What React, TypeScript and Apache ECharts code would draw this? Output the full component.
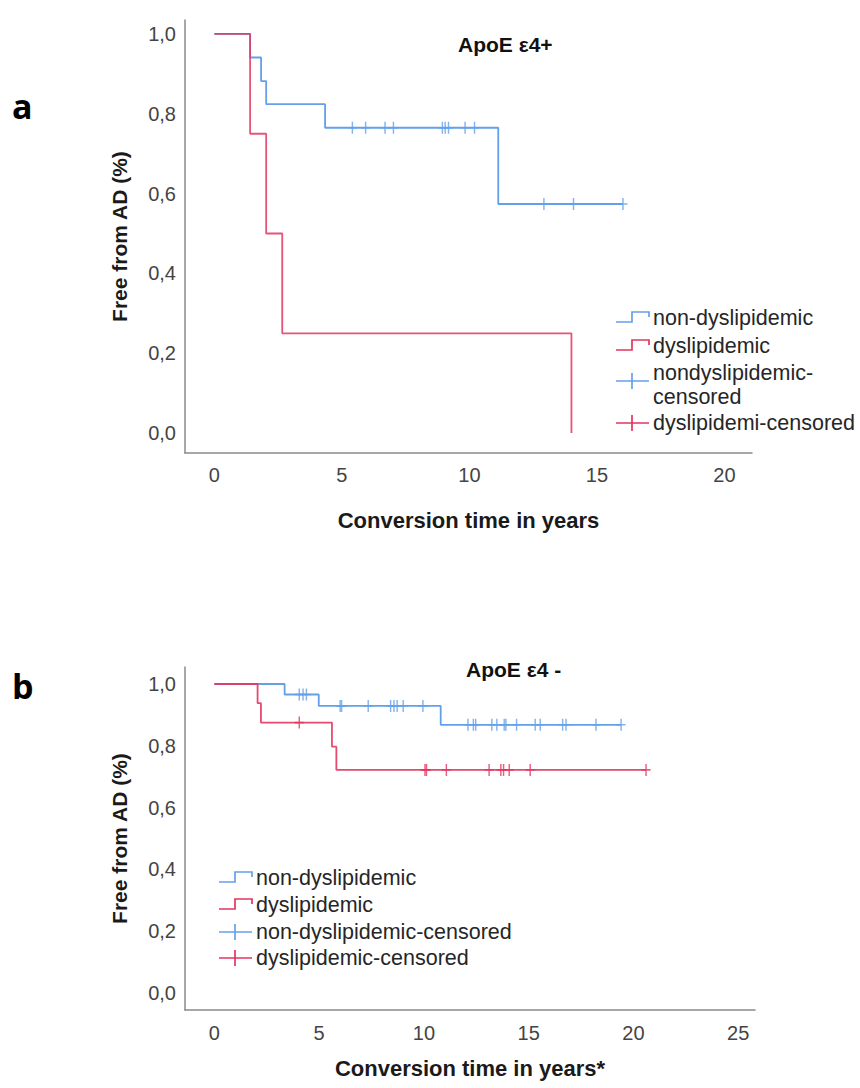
import React, { useEffect, useRef } from "react";
import * as echarts from "echarts";

// ---------- data ----------
const xTicksA = [0, 5, 10, 15, 20];
const xTicksB = [0, 5, 10, 15, 20, 25];
const yTicks = [0, 0.2, 0.4, 0.6, 0.8, 1.0];

// Panel a: ApoE e4+
const aNonTimes = [0, 1.4, 1.83, 2.03, 4.34, 11.13];
const aNonSurv = [1, 0.941, 0.882, 0.824, 0.765, 0.574];
const aNonEnd = 16.02;
const aNonCensored = [5.41, 5.93, 6.69, 7.02, 8.94, 9.05, 9.18, 9.83, 10.2, 12.92, 14.08, 16.02];

const aDysTimes = [0, 1.4, 2.03, 2.66, 14.0];
const aDysSurv = [1, 0.75, 0.5, 0.25, 0];
const aDysEnd = 14.0;
const aDysCensored: number[] = [];

// Panel b: ApoE e4 -
const bNonTimes = [0, 3.35, 4.98, 10.8];
const bNonSurv = [1, 0.966, 0.929, 0.868];
const bNonEnd = 19.41;
const bNonCensored = [
  4.05, 4.23, 4.39, 6.0, 6.07, 7.34, 8.41, 8.57, 8.72, 9.01, 9.95,
  12.1, 12.36, 12.47, 13.24, 13.48, 13.83, 13.91, 14.42, 15.31, 15.55,
  16.62, 16.78, 18.21, 19.41,
];

const bDysTimes = [0, 2.06, 2.22, 5.61, 5.82];
const bDysSurv = [1, 0.938, 0.875, 0.797, 0.722];
const bDysEnd = 20.6;
const bDysCensored = [4.05, 10.05, 10.12, 11.07, 13.11, 13.67, 13.8, 14.07, 15.07, 20.6];

const titleA = "ApoE \u03b54+";
const titleB = "ApoE \u03b54 -";
const xNameA = "Conversion time in years";
const xNameB = "Conversion time in years*";
const yName = "Free from AD (%)";
const legendA = ["non-dyslipidemic", "dyslipidemic", "nondyslipidemic-", "censored", "dyslipidemi-censored"];
const legendB = ["non-dyslipidemic", "dyslipidemic", "non-dyslipidemic-censored", "dyslipidemic-censored"];

// ---------- helpers ----------
function stepData(times: number[], surv: number[], end: number) {
  const pts = times.map((t, i) => [t, surv[i]]);
  if (end > times[times.length - 1]) pts.push([end, surv[surv.length - 1]]);
  return pts;
}
function survAt(times: number[], surv: number[], t: number) {
  let v = surv[0];
  for (let i = 0; i < times.length; i++) if (times[i] <= t) v = surv[i];
  return v;
}
function censorData(times: number[], surv: number[], cens: number[]) {
  return cens.map((t) => [t, survAt(times, surv, t)]);
}

const BLUE = "#64a0ea";
const RED = "#e2365f";
const FONT = "'Liberation Sans', Arial, sans-serif";
const CROSS = "path://M4.2,0 H5.8 V5.2 H10 V6.8 H5.8 V12 H4.2 V6.8 H0 V5.2 H4.2 Z";

function xAxisCfg(grid: number, min: number, max: number, ticks: number[], name: string, gap: number, margin: number) {
  return {
    type: "value", gridIndex: grid, min, max,
    axisLine: { show: true, onZero: false, lineStyle: { color: "#8a8a8a", width: 1.5 } },
    axisTick: { show: false }, splitLine: { show: false },
    axisLabel: { customValues: ticks, fontSize: 20, color: "#444444", fontFamily: FONT, margin },
    name, nameLocation: "middle", nameGap: gap,
    nameTextStyle: { fontSize: 22, fontWeight: "bold", color: "#1a1a1a", fontFamily: FONT },
  };
}
function yAxisCfg(grid: number, min: number, max: number) {
  return {
    type: "value", gridIndex: grid, min, max,
    axisLine: { show: true, onZero: false, lineStyle: { color: "#8a8a8a", width: 1.5 } },
    axisTick: { show: false }, splitLine: { show: false },
    axisLabel: {
      customValues: yTicks, fontSize: 20, color: "#444444", fontFamily: FONT, margin: 9,
      formatter: (v: number) => v.toFixed(1).replace(".", ","),
    },
    name: yName, nameLocation: "middle", nameGap: 55, nameRotate: 90,
    nameTextStyle: { fontSize: 21, fontWeight: "bold", color: "#1a1a1a", fontFamily: FONT },
  };
}
function lineSeries(idx: number, data: number[][], color: string, z: number, opacity = 1) {
  return {
    type: "line", xAxisIndex: idx, yAxisIndex: idx, step: "end", data, showSymbol: false, symbol: "none",
    lineStyle: { color, width: 1.8, opacity }, z, silent: true,
  };
}
function censorSeries(idx: number, data: number[][], color: string, z: number) {
  return {
    type: "scatter", xAxisIndex: idx, yAxisIndex: idx, data, symbol: CROSS, symbolSize: [9, 12],
    itemStyle: { color }, z, silent: true,
  };
}

function legendGraphics(x0: number, rows: { kind: "step" | "cross"; color: string; y: number; texts: { t: string; y: number }[] }[]) {
  const els: any[] = [];
  const xm = x0 + 16, x1 = x0 + 33;
  rows.forEach((r) => {
    if (r.kind === "step") {
      els.push({
        type: "polyline",
        shape: { points: [[x0, r.y + 4], [xm, r.y + 4], [xm, r.y - 6], [x1, r.y - 6], [x1, r.y - 1]] },
        style: { stroke: r.color, lineWidth: 1.7, fill: null },
      });
    } else {
      els.push({ type: "line", shape: { x1: x0, y1: r.y, x2: x1, y2: r.y }, style: { stroke: r.color, lineWidth: 1.7 } });
      els.push({ type: "line", shape: { x1: xm, y1: r.y - 8, x2: xm, y2: r.y + 8 }, style: { stroke: r.color, lineWidth: 1.7 } });
    }
    r.texts.forEach((tx) => {
      els.push({
        type: "text", x: x1 + 4, y: tx.y,
        style: { text: tx.t, fontSize: 21.5, fontFamily: FONT, fill: "#262626", textAlign: "left", textVerticalAlign: "middle" },
      });
    });
  });
  return els;
}

export default function App() {
  const ref = useRef<HTMLDivElement>(null);
  useEffect(() => {
    document.body.style.margin = "0";
    if (!ref.current) return;
    const chart = echarts.init(ref.current, undefined, { renderer: "svg" });

    const option: any = {
      animation: false,
      backgroundColor: "#ffffff",
      grid: [
        { left: 185, top: 20, width: 567, height: 433 },
        { left: 185, top: 667, width: 570, height: 343 },
      ],
      xAxis: [
        xAxisCfg(0, -1.153, 21.08, xTicksA, xNameA, 56, 12),
        xAxisCfg(1, -1.404, 25.8, xTicksB, xNameB, 47, 13),
      ],
      yAxis: [yAxisCfg(0, -0.05, 1.035), yAxisCfg(1, -0.055, 1.055)],
      series: [
        lineSeries(0, stepData(aNonTimes, aNonSurv, aNonEnd), BLUE, 2),
        lineSeries(0, stepData(aDysTimes, aDysSurv, aDysEnd), RED, 3, 0.85),
        censorSeries(0, censorData(aNonTimes, aNonSurv, aNonCensored), BLUE, 4),
        censorSeries(0, censorData(aDysTimes, aDysSurv, aDysCensored), RED, 5),
        lineSeries(1, stepData(bNonTimes, bNonSurv, bNonEnd), BLUE, 2),
        lineSeries(1, stepData(bDysTimes, bDysSurv, bDysEnd), RED, 3, 0.9),
        censorSeries(1, censorData(bNonTimes, bNonSurv, bNonCensored), BLUE, 4),
        censorSeries(1, censorData(bDysTimes, bDysSurv, bDysCensored), RED, 5),
      ],
      graphic: [
        { type: "text", x: 12, y: 106, style: { text: "a", fontSize: 34, fontWeight: "bold", fontFamily: "'Open Sans', sans-serif", fill: "#000", textVerticalAlign: "middle" } },
        { type: "text", x: 12, y: 686, style: { text: "b", fontSize: 34, fontWeight: "bold", fontFamily: "'Open Sans', sans-serif", fill: "#000", textVerticalAlign: "middle" } },
        { type: "text", x: 458, y: 44, style: { text: titleA, fontSize: 21, fontWeight: "bold", fontFamily: FONT, fill: "#111", textVerticalAlign: "middle" } },
        { type: "text", x: 466, y: 669, style: { text: titleB, fontSize: 21, fontWeight: "bold", fontFamily: FONT, fill: "#111", textVerticalAlign: "middle" } },
        ...legendGraphics(616, [
          { kind: "step", color: BLUE, y: 318, texts: [{ t: legendA[0], y: 318 }] },
          { kind: "step", color: RED, y: 346, texts: [{ t: legendA[1], y: 346 }] },
          { kind: "cross", color: BLUE, y: 381, texts: [{ t: legendA[2], y: 373 }, { t: legendA[3], y: 397 }] },
          { kind: "cross", color: RED, y: 423, texts: [{ t: legendA[4], y: 423 }] },
        ]),
        ...legendGraphics(219, [
          { kind: "step", color: BLUE, y: 878, texts: [{ t: legendB[0], y: 878 }] },
          { kind: "step", color: RED, y: 905, texts: [{ t: legendB[1], y: 905 }] },
          { kind: "cross", color: BLUE, y: 932, texts: [{ t: legendB[2], y: 932 }] },
          { kind: "cross", color: RED, y: 958, texts: [{ t: legendB[3], y: 958 }] },
        ]),
      ],
    };
    chart.setOption(option);
    return () => chart.dispose();
  }, []);
  return <div ref={ref} style={{ width: 860, height: 1088 }} />;
}
